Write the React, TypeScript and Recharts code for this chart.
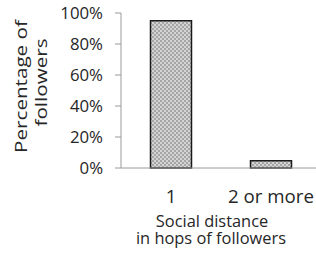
import React from 'react';
import { BarChart, Bar, XAxis, YAxis } from 'recharts';

const categories = ['1', '2 or more'];
const shares = [0.95, 0.047];
const yTicks = [0, 0.2, 0.4, 0.6, 0.8, 1];

const data = categories.map((c, i) => ({ category: c, share: shares[i] }));

const FONT = "'Open Sans', sans-serif";
const TEXT = '#262626';

const YLabel = () => (
  <g fontFamily={FONT} fill={TEXT} fontSize={16}>
    <text x={0} y={0} textAnchor="middle" transform="translate(26.5,86.5) rotate(-90) scale(1.29,1)">
      Percentage of
    </text>
    <text x={0} y={0} textAnchor="middle" transform="translate(47,82.5) rotate(-90) scale(1.29,1)">
      followers
    </text>
  </g>
);

const XLabel = () => (
  <text fontFamily={FONT} fill={TEXT} fontSize={16.4} textAnchor="middle">
    <tspan x={212} y={226.5}>Social distance</tspan>
    <tspan x={211} y={244}>in hops of followers</tspan>
  </text>
);

export default function App() {
  return (
    <div style={{ position: 'absolute', left: 0, top: 0, width: 316, height: 255, overflow: 'hidden', background: '#fff' }}>
      <svg width={0} height={0} style={{ position: 'absolute' }}>
        <defs>
          <pattern id="checker" width={4} height={4} patternUnits="userSpaceOnUse">
            <rect width={4} height={4} fill="#d4d4d4" />
            <rect width={2} height={2} fill="#a6a6a6" />
            <rect x={2} y={2} width={2} height={2} fill="#a6a6a6" />
          </pattern>
        </defs>
      </svg>
      <BarChart
        width={325}
        height={255}
        data={data}
        margin={{ top: 13, right: 4, bottom: 0, left: 0 }}
        barCategoryGap="29.5%"
      >
        <XAxis
          dataKey="category"
          height={87}
          tickLine={false}
          tickSize={0}
          tickMargin={22}
          stroke="#9a9a9a"
          interval={0}
          tick={{ fill: TEXT, fontSize: 18.7, fontFamily: FONT }}
          label={{ content: () => <XLabel /> }}
        />
        <YAxis
          width={121}
          domain={[0, 1]}
          ticks={yTicks}
          interval={0}
          tickFormatter={(v: number) => `${Math.round(v * 100)}%`}
          tickSize={6}
          tickMargin={12}
          stroke="#9a9a9a"
          tick={{ fill: TEXT, fontSize: 16.8, fontFamily: FONT }}
          label={{ content: () => <YLabel /> }}
        />
        <Bar
          dataKey="share"
          fill="url(#checker)"
          stroke="#1a1a1a"
          strokeWidth={1.5}
          isAnimationActive={false}
        />
      </BarChart>
    </div>
  );
}
